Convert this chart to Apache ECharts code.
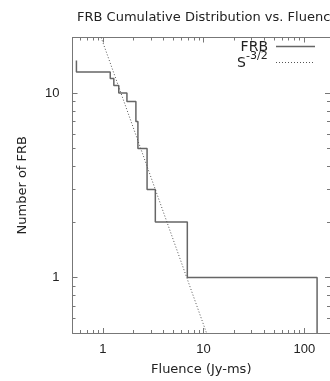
<!DOCTYPE html>
<html>
<head>
<meta charset="utf-8">
<script src="https://cdn.jsdelivr.net/npm/echarts@6/dist/echarts.min.js"></script>
<style>
  html, body { margin: 0; padding: 0; background: #fff; }
  #chart { width: 330px; height: 381px; }
</style>
</head>
<body>
<div id="chart"></div>
<script>
// Cumulative FRB count above each fluence (step drawn at each fluence)
const fluence  = [0.547, 1.185, 1.286, 1.44, 1.735, 2.13, 2.23, 2.75, 3.32, 6.9, 134, 134];
const frbCount = [15, 13, 12, 11, 10, 9, 7, 5, 3, 2, 1, 0.5];

// Reference S^-3/2 power law, two end points
const powerFluence = [0.962, 10.7];
const powerCount   = [20, 0.5];

// Tick positions
const xTickLabels = [1, 10, 100];
const xMinorTicks = [0.6, 0.7, 0.8, 0.9, 2, 3, 4, 5, 6, 7, 8, 9, 20, 30, 40, 50, 60, 70, 80, 90];
const yTickLabels = [1, 10];
const yMinorTicks = [0.6, 0.7, 0.8, 0.9, 2, 3, 4, 5, 6, 7, 8, 9];

const X_MIN = 0.5, X_MAX = 180, Y_MIN = 0.5, Y_MAX = 20;
const AXIS_COLOR = '#777';
const LINE_COLOR = '#666';
const FONT = 'DejaVu Sans';
const TICK_FONT = 'Liberation Sans';

function xAxisDef(position, major, withLabels) {
  return {
    type: 'log', logBase: 10, min: X_MIN, max: X_MAX, position: position,
    axisLine: { show: major, lineStyle: { color: AXIS_COLOR, width: 1 } },
    axisTick: { show: true, inside: true, length: major ? 5 : 3,
                customValues: major ? xTickLabels : xMinorTicks,
                lineStyle: { color: AXIS_COLOR, width: 1 } },
    axisLabel: withLabels ? { show: true, customValues: xTickLabels, margin: 10,
                 color: '#222', fontFamily: TICK_FONT, fontSize: 13 } : { show: false },
    splitLine: { show: false },
    minorTick: { show: false },
    name: withLabels ? 'Fluence (Jy-ms)' : '',
    nameLocation: 'middle', nameGap: 30,
    nameTextStyle: { color: '#222', fontFamily: FONT, fontSize: 13 }
  };
}

function yAxisDef(position, major, withLabels) {
  return {
    type: 'log', logBase: 10, min: Y_MIN, max: Y_MAX, position: position,
    axisLine: { show: major, lineStyle: { color: AXIS_COLOR, width: 1 } },
    axisTick: { show: true, inside: true, length: major ? 5 : 3,
                customValues: major ? yTickLabels : yMinorTicks,
                lineStyle: { color: AXIS_COLOR, width: 1 } },
    axisLabel: withLabels ? { show: true, customValues: yTickLabels, margin: 13,
                 color: '#222', fontFamily: TICK_FONT, fontSize: 13 } : { show: false },
    splitLine: { show: false },
    minorTick: { show: false },
    name: withLabels ? 'Number of FRB' : '',
    nameLocation: 'middle', nameGap: 43, nameRotate: 90,
    nameTextStyle: { color: '#222', fontFamily: FONT, fontSize: 13 }
  };
}

const chart = echarts.init(document.getElementById('chart'), null, { renderer: 'canvas' });

chart.setOption({
  animation: false,
  backgroundColor: '#fff',
  title: {
    text: 'FRB Cumulative Distribution vs. Fluence',
    left: 72, top: 6,
    textStyle: { color: '#222', fontFamily: FONT, fontSize: 13, fontWeight: 'normal' }
  },
  grid: { left: 72.5, right: -2, top: 37.5, bottom: 45, containLabel: false },
  xAxis: [
    xAxisDef('bottom', true, true),
    xAxisDef('bottom', false, false),
    xAxisDef('top', true, false),
    xAxisDef('top', false, false)
  ],
  yAxis: [
    yAxisDef('left', true, true),
    yAxisDef('left', false, false),
    yAxisDef('right', true, false),
    yAxisDef('right', false, false)
  ],
  series: [
    {
      name: 'FRB', type: 'line', xAxisIndex: 0, yAxisIndex: 0,
      step: 'start', symbol: 'none', clip: true,
      lineStyle: { color: LINE_COLOR, width: 1.5 },
      data: fluence.map((f, i) => [f, frbCount[i]])
    },
    {
      name: 'S-3/2', type: 'line', xAxisIndex: 0, yAxisIndex: 0,
      symbol: 'none', clip: true,
      lineStyle: { color: '#555', width: 1, type: [1, 2] },
      data: powerFluence.map((f, i) => [f, powerCount[i]])
    }
  ],
  // Key in the upper right: right-justified labels followed by line samples
  graphic: [
    { type: 'text', x: 268, y: 47,
      style: { text: 'FRB', fill: '#222', font: '14px "DejaVu Sans"',
               textAlign: 'right', textVerticalAlign: 'middle' } },
    { type: 'line', shape: { x1: 276, y1: 46.5, x2: 315, y2: 46.5 },
      style: { stroke: LINE_COLOR, lineWidth: 1.5 } },
    { type: 'text', x: 246, y: 63,
      style: { text: 'S', fill: '#222', font: '14px "DejaVu Sans"',
               textAlign: 'right', textVerticalAlign: 'middle' } },
    { type: 'text', x: 246, y: 56,
      style: { text: '-3/2', fill: '#222', font: '11px "DejaVu Sans"',
               textAlign: 'left', textVerticalAlign: 'middle' } },
    { type: 'line', shape: { x1: 276, y1: 62.5, x2: 315, y2: 62.5 },
      style: { stroke: '#555', lineWidth: 1, lineDash: [1, 2] } }
  ]
});
</script>
</body>
</html>
